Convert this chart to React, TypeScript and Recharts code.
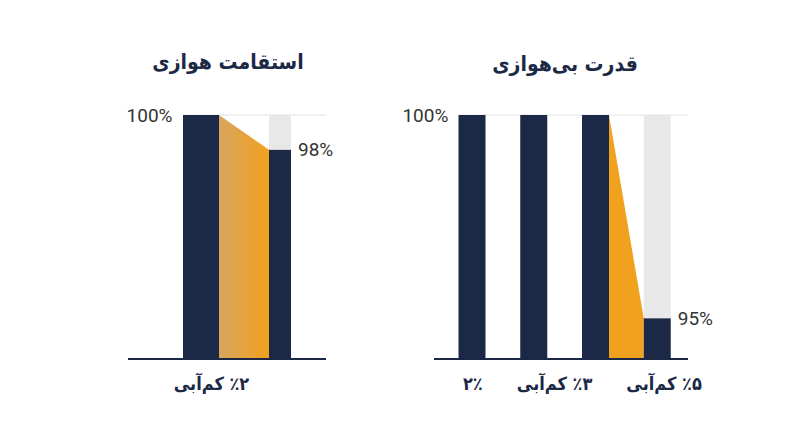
import React from 'react';
import { ComposedChart, Bar, XAxis, YAxis, CartesianGrid } from 'recharts';

// chart values
const LEFT_TITLE = 'استقامت هوازی';
const LEFT_CATEGORIES = ['٪۲ کم‌آبی', ''];
const LEFT_VALUES = [100, 98];
const LEFT_DOMAIN: [number, number] = [86, 100];

const RIGHT_TITLE = 'قدرت بی‌هوازی';
const RIGHT_CATEGORIES = ['۲٪', '٪۳ کم‌آبی', '', '٪۵ کم‌آبی'];
const RIGHT_VALUES = [100, 100, 100, 95];
const RIGHT_DOMAIN: [number, number] = [94, 100];

const Y_TICKS = [100];

const NAVY = '#1b2946';
const ORANGE = '#f0a11d';
const TAN = '#d9a55f';
const GREY_BG = '#e8e8e8';
const GRID = '#e2e2e2';
const TEXT = '#333333';
const FONT = "Roboto, 'DejaVu Sans', sans-serif";
const FA_FONT = "'DejaVu Sans Condensed', 'DejaVu Sans', sans-serif";

const CHART_TOP = 100;
const PLOT_TOP = 15;
const PLOT_H = 244;
const X_AXIS_H = 40;

interface PanelProps {
  id: string;
  categories: string[];
  values: number[];
  domain: [number, number];
  left: number;
  marginLeft: number;
  plotWidth: number;
  padL: number;
  padR: number;
  barWidths: number[];
  labelDx: number[];
  gradient: [string, string];
}

const Panel: React.FC<PanelProps> = (p) => {
  const data = p.categories.map((name, i) => ({ name, value: p.values[i] }));
  const step = (p.plotWidth - p.padL - p.padR) / data.length;
  const firstLeft = p.marginLeft + p.padL + step / 2 - p.barWidths[0] / 2;
  const plotRight = p.marginLeft + p.plotWidth;
  const width = plotRight + 50;
  const height = PLOT_TOP + PLOT_H + X_AXIS_H;
  const gradId = `conn-${p.id}`;

  const renderBar = (props: any) => {
    const { x, y, width: bw, height: bh, index } = props;
    const v = p.values[index];
    const w = p.barWidths[index];
    const cx = x + bw / 2;
    const base = y + bh;
    const unit = bh / (v - p.domain[0]);
    const yOf = (val: number) => base - (val - p.domain[0]) * unit;
    const barLeft = cx - w / 2;
    const prev = index > 0 ? p.values[index - 1] : v;
    const gap = step - p.barWidths[Math.max(index - 1, 0)] / 2 - w / 2;
    return (
      <g>
        <defs>
          <linearGradient id={gradId} x1="0" y1="0" x2="1" y2="0">
            <stop offset="0%" stopColor={p.gradient[0]} />
            <stop offset="100%" stopColor={p.gradient[1]} />
          </linearGradient>
        </defs>
        {v < p.domain[1] && (
          <rect x={barLeft} y={yOf(p.domain[1])} width={w} height={y - yOf(p.domain[1])} fill={GREY_BG} />
        )}
        {v < prev && (
          <polygon
            points={`${barLeft - gap},${yOf(prev)} ${barLeft},${y} ${barLeft},${base} ${barLeft - gap},${base}`}
            fill={`url(#${gradId})`}
          />
        )}
        <rect x={barLeft} y={y} width={w} height={bh} fill={NAVY} />
        {v < p.domain[1] && (
          <text x={barLeft + w + 7} y={y} dominantBaseline="central" fontSize={19} fill={TEXT} fontFamily={FONT}>
            {`${v}%`}
          </text>
        )}
      </g>
    );
  };

  const renderYTick = (props: any) => (
    <text x={firstLeft - 10} y={props.y} textAnchor="end" dominantBaseline="central" fontSize={19} fill={TEXT} fontFamily={FONT}>
      {`${props.payload.value}%`}
    </text>
  );

  const renderXTick = (props: any) => {
    const { x, payload, index } = props;
    if (!payload.value) return <g />;
    return (
      <text
        x={x + p.labelDx[index]}
        y={PLOT_TOP + PLOT_H + 24}
        textAnchor="middle"
        dominantBaseline="central"
        fontSize={18}
        fontWeight={700}
        fill={NAVY}
        fontFamily={FA_FONT}
        style={{ direction: 'rtl' }}
      >
        {payload.value}
      </text>
    );
  };

  return (
    <div style={{ position: 'absolute', left: p.left, top: CHART_TOP }}>
      <ComposedChart
        width={width}
        height={height}
        data={data}
        margin={{ top: PLOT_TOP, right: width - plotRight, left: p.marginLeft, bottom: 0 }}
      >
        <CartesianGrid vertical={false} stroke={GRID} x={firstLeft} width={plotRight - firstLeft} />
        <XAxis
          dataKey="name"
          height={X_AXIS_H}
          interval={0}
          padding={{ left: p.padL, right: p.padR }}
          tickLine={false}
          axisLine={{ stroke: NAVY, strokeWidth: 2 }}
          tick={renderXTick}
        />
        <YAxis
          mirror
          domain={p.domain}
          ticks={Y_TICKS}
          interval={0}
          tickLine={false}
          axisLine={false}
          tick={renderYTick}
        />
        <Bar dataKey="value" barSize={20} shape={renderBar} isAnimationActive={false} />
      </ComposedChart>
    </div>
  );
};

const titleStyle = (cx: number, cy: number): React.CSSProperties => ({
  position: 'absolute',
  left: cx - 150,
  top: cy - 16,
  width: 300,
  lineHeight: '32px',
  textAlign: 'center',
  direction: 'rtl',
  fontFamily: FA_FONT,
  fontWeight: 700,
  fontSize: 21,
  color: NAVY,
});

export default function App() {
  return (
    <div style={{ position: 'absolute', left: 0, top: 0, width: 800, height: 447, background: '#fff', overflow: 'hidden' }}>
      <div style={titleStyle(228, 62)}>{LEFT_TITLE}</div>
      <div style={titleStyle(565, 64)}>{RIGHT_TITLE}</div>
      <Panel
        id="left"
        categories={LEFT_CATEGORIES}
        values={LEFT_VALUES}
        domain={LEFT_DOMAIN}
        left={118}
        marginLeft={10}
        plotWidth={198}
        padL={33}
        padR={7}
        barWidths={[36, 22]}
        labelDx={[11, 0]}
        gradient={[TAN, ORANGE]}
      />
      <Panel
        id="right"
        categories={RIGHT_CATEGORIES}
        values={RIGHT_VALUES}
        domain={RIGHT_DOMAIN}
        left={390}
        marginLeft={44}
        plotWidth={254}
        padL={7}
        padR={0}
        barWidths={[27, 27, 27, 27]}
        labelDx={[1, 21, 0, 7]}
        gradient={[ORANGE, ORANGE]}
      />
    </div>
  );
}
